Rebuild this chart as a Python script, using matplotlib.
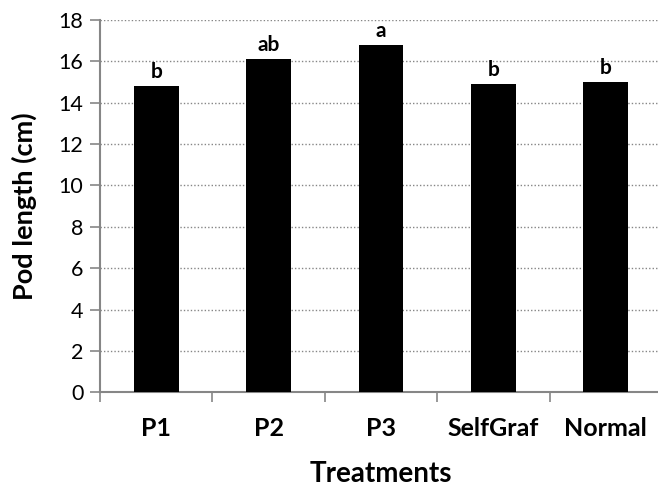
import matplotlib.pyplot as plt
from matplotlib.ticker import FixedLocator

treatments = ["P1", "P2", "P3", "SelfGraf", "Normal"]
pod_length = [14.8, 16.1, 16.8, 14.9, 15.0]
letters = ["b", "ab", "a", "b", "b"]

plt.rcParams['font.family'] = ['Lato', 'DejaVu Sans']

fig = plt.figure(figsize=(6.58, 4.91), dpi=100)
ax = fig.add_axes([100/658, 98.7/491, 562/658, 372.3/491])

x = list(range(len(treatments)))
ax.bar(x, pod_length, width=0.4, color='black', zorder=3)

for i in x:
	ax.annotate(letters[i], (x[i], pod_length[i]), xytext=(0, 3), textcoords='offset points',
		ha='center', va='bottom', fontsize=15, fontweight='bold')

ax.set_xlim(-0.5, len(treatments) - 0.5)
ax.set_ylim(0, 18)
ax.set_yticks(range(0, 19, 2))
ax.set_xticks(x)
ax.set_xticklabels(treatments, fontsize=18, fontweight='bold')
ax.xaxis.set_minor_locator(FixedLocator([i - 0.5 for i in range(len(treatments) + 1)]))
ax.tick_params(axis='x', which='major', length=0, pad=18)
ax.tick_params(axis='x', which='minor', length=7, width=1.2, color='#868686')
ax.tick_params(axis='y', length=7, width=1.2, color='#868686', labelsize=15.5, pad=5)

ax.grid(axis='y', linestyle=(0, (1, 1.5)), color='#868686', linewidth=1, zorder=0)
for s in ['top', 'right']:
	ax.spines[s].set_visible(False)
for s in ['left', 'bottom']:
	ax.spines[s].set_color('#868686')
	ax.spines[s].set_linewidth(1.5)

ax.set_ylabel("Pod length (cm)", fontsize=19.5, fontweight='bold')
ax.yaxis.set_label_coords(-0.112, 0.5)
ax.set_xlabel("Treatments", fontsize=20, fontweight='bold', labelpad=15)

fig.savefig('out.png', dpi=100)
